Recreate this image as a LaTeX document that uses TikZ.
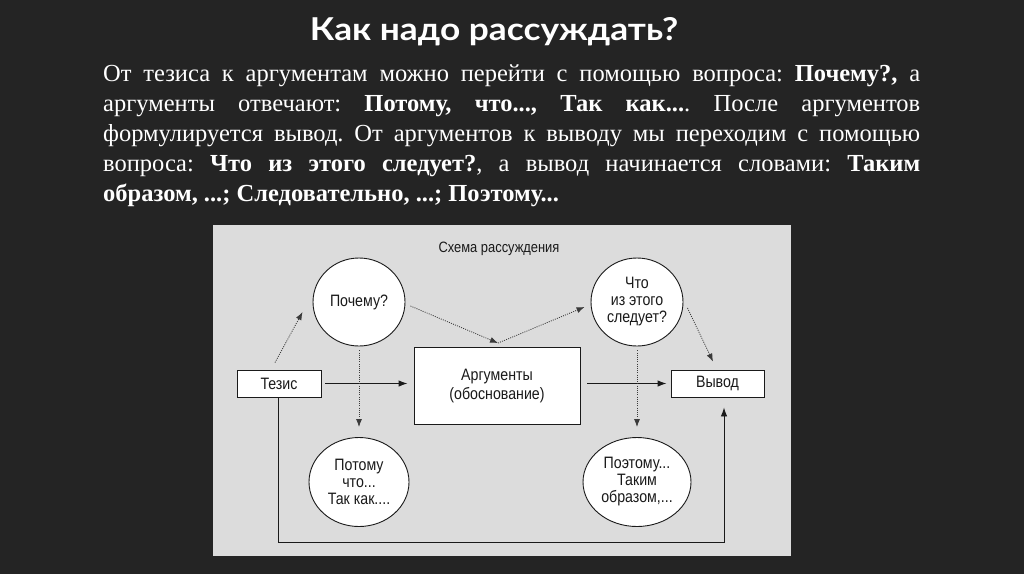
\documentclass[tikz,border=0pt]{standalone}
\usepackage{fontspec}
\setmainfont{Liberation Serif}
\newfontfamily\titlefont[FakeStretch=1.12]{Lato}
\newfontfamily\diagfont[FakeStretch=0.86]{Liberation Sans}
\usetikzlibrary{shapes.geometric,arrows.meta,calc}
\definecolor{bgdark}{HTML}{242424}
\definecolor{panel}{HTML}{DCDCDC}
\definecolor{ink}{HTML}{1A1A1A}
\definecolor{dotc}{HTML}{3A3A3A}
\newcommand{\jline}[1]{\hbox to 817pt{#1}}
\frenchspacing
\tikzset{
  diag/.style={font=\diagfont\fontsize{16.5}{17}\selectfont, text=ink},
  box/.style={diag, draw=ink, fill=white, line width=0.9pt, inner sep=0pt},
  bubble/.style={diag, ellipse, draw=ink, fill=white, line width=0.9pt, inner sep=0pt, align=center},
  dotarr/.style={draw=dotc, line width=0.8pt, dash pattern=on 1pt off 1.2pt, -{Latex[length=8pt,width=6pt]}},
  solarr/.style={draw=ink, line width=1.1pt, -{Latex[length=9pt,width=6.5pt]}},
}
\begin{document}
\begin{tikzpicture}[x=1pt,y=-1pt]
\fill[bgdark] (0,0) rectangle (1024,574);
\useasboundingbox (0,0) rectangle (1024,574);
% title
\node[font=\titlefont\bfseries\fontsize{31.5}{36}\selectfont, text=white, anchor=base, inner sep=0pt] (title) at (494,40) {Как надо рассуждать?};
% body text
\node[anchor=north west, inner sep=0pt, align=left, text=white, font=\fontsize{24.5}{29.85}\selectfont\frenchspacing] (body) at (103,65) {%
\jline{От тезиса к аргументам можно перейти с помощью вопроса: \textbf{Почему?,} а}\\
\jline{аргументы отвечают: \textbf{Потому, что...,} \textbf{Так как...}. После аргументов}\\
\jline{формулируется вывод. От аргументов к выводу мы переходим с помощью}\\
\jline{вопроса: \textbf{Что из этого следует?}, а вывод начинается словами: \textbf{Таким}}\\
\hbox{\textbf{образом, ...; Следовательно, ...; Поэтому...}}};
% panel
\fill[panel] (213,225) rectangle (791,556);
\node[diag, font=\diagfont\fontsize{15}{16}\selectfont, inner sep=0pt] (caption) at (499,249) {Схема рассуждения};
% nodes
\node[box, minimum width=84pt, minimum height=27pt] (tezis) at (279,383.5) {Тезис};
\node[box, minimum width=166pt, minimum height=77pt, align=center, font=\diagfont\fontsize{16.5}{19}\selectfont] (arg) at (497,386) {Аргументы\\(обоснование)};
\node[box, minimum width=93pt, minimum height=27pt] (vyvod) at (717.5,383.5) {Вывод};
\node[bubble, minimum width=92pt, minimum height=88pt] (pochemu) at (359,302) {Почему?};
\node[bubble, minimum width=92pt, minimum height=88pt] (chto) at (637,302) {Что\\из этого\\следует?};
\node[bubble, minimum width=100pt, minimum height=89pt] (potomu) at (359,482) {Потому\\что...\\Так как....};
\node[bubble, minimum width=108pt, minimum height=89pt] (poetomu) at (637,482) {Поэтому...\\Таким\\образом,...};
% solid arrows
\draw[solarr, shorten <=4pt, shorten >=6pt] (tezis.east) -- (arg.west |- tezis.east);
\draw[solarr, shorten <=7pt, shorten >=4pt] (arg.east |- vyvod.west) -- (vyvod.west);
\draw[solarr, line width=0.9pt] ($(tezis.south)+(-1,0)$) -- ++(0,145) -| ($(vyvod.south)+(6.5,10)$);
% dotted arrows
\draw[dotarr] ($(tezis.north)+(-4,-7)$) -- ($(pochemu.west)+(-10,10)$);
\draw[dotarr] ($(pochemu.east)+(5,4)$) -- ($(arg.north)+(1,-4)$);
\draw[dotarr] ($(arg.north)+(1,-4)$) -- ($(chto.west)+(-6,5)$);
\draw[dotarr] ($(chto.east)+(4,6)$) -- ($(vyvod.north)+(-4.5,-8)$);
\draw[dotarr] ($(pochemu.south)+(0,4)$) -- ($(potomu.north)+(0,-10)$);
\draw[dotarr] ($(chto.south)+(0,4)$) -- ($(poetomu.north)+(0,-10)$);
\end{tikzpicture}
\end{document}
